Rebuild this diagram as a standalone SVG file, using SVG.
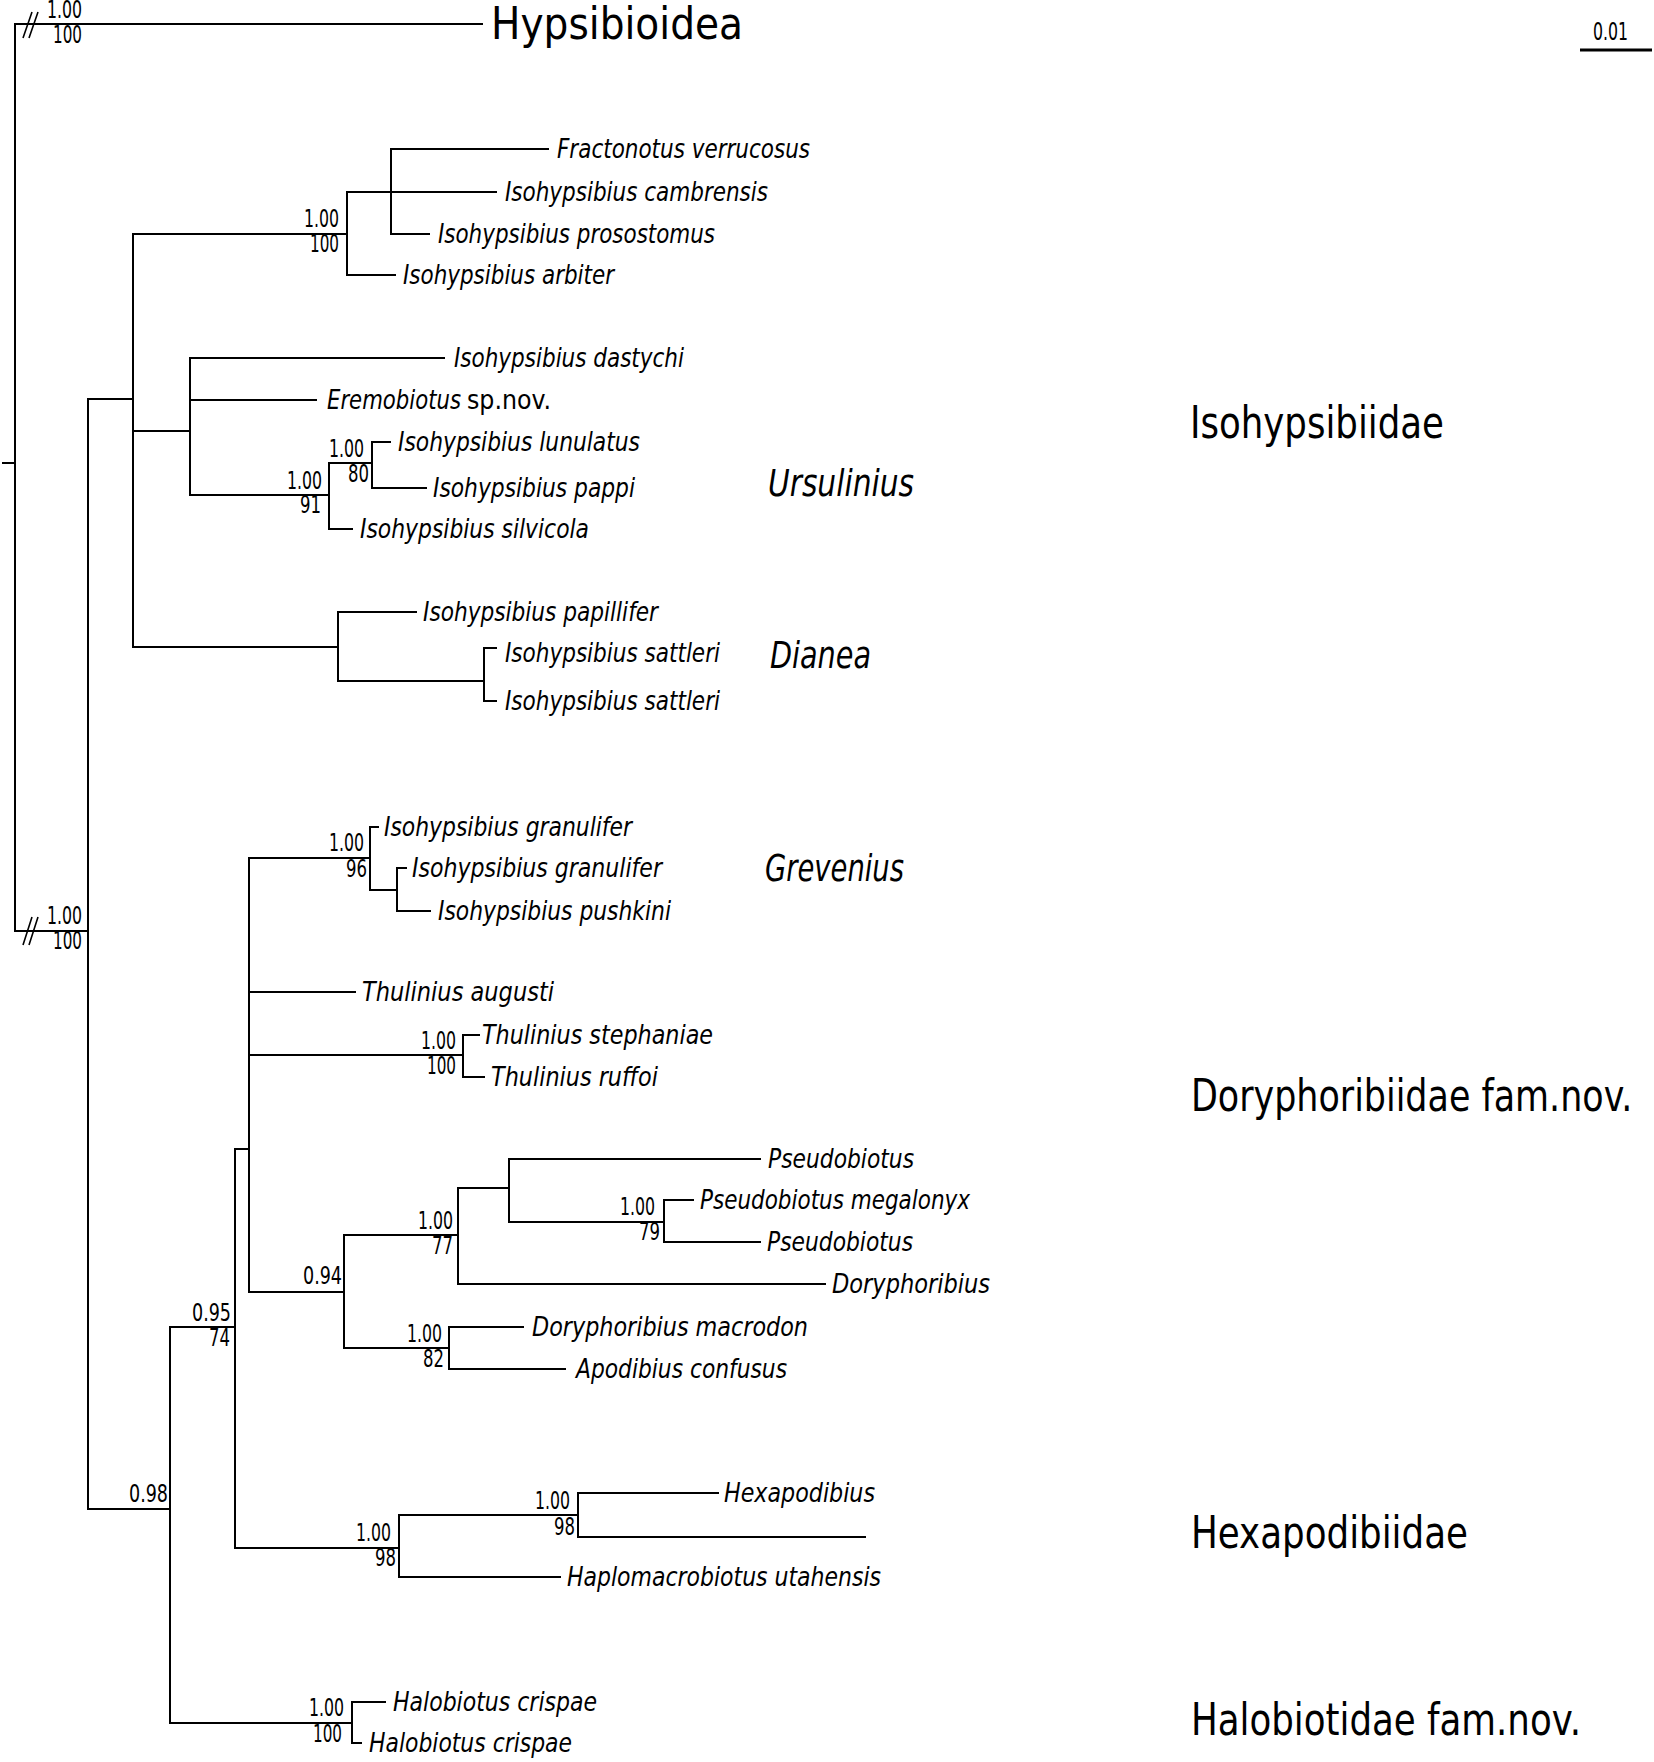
<svg xmlns="http://www.w3.org/2000/svg" width="1654" height="1762" viewBox="0 0 1654 1762">
<style>
text{font-family:"DejaVu Sans Condensed","DejaVu Sans",sans-serif;fill:#000}
.sp{font-size:27px;font-style:italic}
.up{font-size:27px}
.num{font-size:24px;text-anchor:end}
.gen{font-size:38px;font-style:italic}
.fam{font-size:45px}
.e path{fill:none;stroke:#000;stroke-width:2;stroke-linecap:square}
.brk{stroke:#000;stroke-width:1.6;fill:none}
</style>
<rect width="1654" height="1762" fill="#fff"/>
<g id="connectors" class="e">
<path d="M3,463H15M15,24V931M15,24H482M15,931H88"/>
<path d="M88,399V1509M88,399H133M88,1509H170"/>
<path d="M133,234V647M133,234H347M133,431H190M133,647H338"/>
<path d="M347,192V275M347,192H496M347,275H395"/>
<path d="M391,149V234M391,149H548M391,234H429"/>
<path d="M190,358V495M190,358H444M190,400H316M190,495H329"/>
<path d="M329,463V529M329,463H372M329,529H352"/>
<path d="M372,442V488M372,442H390M372,488H426"/>
<path d="M338,612V681M338,612H416M338,681H484"/>
<path d="M484,648V701M484,648H496M484,701H496"/>
<path d="M170,1327V1723M170,1327H235M170,1723H352"/>
<path d="M235,1149V1548M235,1149H249M235,1548H399"/>
<path d="M249,858V1292M249,858H370M249,992H355M249,1055H463M249,1292H344"/>
<path d="M370,827V890M370,827H378M370,890H397"/>
<path d="M397,868V911M397,868H406M397,911H430"/>
<path d="M463,1035V1077M463,1035H479M463,1077H484"/>
<path d="M344,1235V1348M344,1235H458M344,1348H449"/>
<path d="M458,1188V1284M458,1188H509M458,1284H825"/>
<path d="M509,1159V1222M509,1159H760M509,1222H664"/>
<path d="M664,1200V1242M664,1200H693M664,1242H760"/>
<path d="M449,1327V1369M449,1327H523M449,1369H565"/>
<path d="M399,1515V1577M399,1515H578M399,1577H560"/>
<path d="M578,1493V1537M578,1493H718M578,1537H865"/>
<path d="M352,1702V1743M352,1702H385M352,1743H361"/>
</g>
<g id="breaks">
<path class="brk" d="M23,38L32,12M29,38L38,12M23,945L32,917M29,945L38,917"/>
</g>
<g id="scale">
<line x1="1580" y1="50" x2="1652" y2="50" stroke="#000" stroke-width="3"/>
<text class="num" x="1628" y="40" textLength="35" lengthAdjust="spacingAndGlyphs">0.01</text>
</g>
<g id="node-root-top"><text class="num" x="82" y="18" textLength="35" lengthAdjust="spacingAndGlyphs">1.00</text><text class="num" x="82" y="43" textLength="29" lengthAdjust="spacingAndGlyphs">100</text></g>
<g id="node-root-low"><text class="num" x="82" y="924" textLength="35" lengthAdjust="spacingAndGlyphs">1.00</text><text class="num" x="82" y="949" textLength="29" lengthAdjust="spacingAndGlyphs">100</text></g>
<g id="node-B"><text class="num" x="339" y="227" textLength="35" lengthAdjust="spacingAndGlyphs">1.00</text><text class="num" x="339" y="252" textLength="29" lengthAdjust="spacingAndGlyphs">100</text></g>
<g id="node-F"><text class="num" x="322" y="489" textLength="35" lengthAdjust="spacingAndGlyphs">1.00</text><text class="num" x="321" y="513" textLength="21" lengthAdjust="spacingAndGlyphs">91</text></g>
<g id="node-G"><text class="num" x="364" y="457" textLength="35" lengthAdjust="spacingAndGlyphs">1.00</text><text class="num" x="369" y="482" textLength="21" lengthAdjust="spacingAndGlyphs">80</text></g>
<g id="node-N"><text class="num" x="364" y="851" textLength="35" lengthAdjust="spacingAndGlyphs">1.00</text><text class="num" x="367" y="877" textLength="21" lengthAdjust="spacingAndGlyphs">96</text></g>
<g id="node-P"><text class="num" x="456" y="1049" textLength="35" lengthAdjust="spacingAndGlyphs">1.00</text><text class="num" x="456" y="1074" textLength="29" lengthAdjust="spacingAndGlyphs">100</text></g>
<g id="node-R"><text class="num" x="453" y="1229" textLength="35" lengthAdjust="spacingAndGlyphs">1.00</text><text class="num" x="453" y="1254" textLength="21" lengthAdjust="spacingAndGlyphs">77</text></g>
<g id="node-U"><text class="num" x="655" y="1215" textLength="35" lengthAdjust="spacingAndGlyphs">1.00</text><text class="num" x="660" y="1240" textLength="21" lengthAdjust="spacingAndGlyphs">79</text></g>
<g id="node-T"><text class="num" x="442" y="1342" textLength="35" lengthAdjust="spacingAndGlyphs">1.00</text><text class="num" x="444" y="1367" textLength="21" lengthAdjust="spacingAndGlyphs">82</text></g>
<g id="node-Q"><text class="num" x="342" y="1284" textLength="39" lengthAdjust="spacingAndGlyphs">0.94</text></g>
<g id="node-L"><text class="num" x="231" y="1321" textLength="39" lengthAdjust="spacingAndGlyphs">0.95</text><text class="num" x="230" y="1346" textLength="21" lengthAdjust="spacingAndGlyphs">74</text></g>
<g id="node-M"><text class="num" x="168" y="1502" textLength="39" lengthAdjust="spacingAndGlyphs">0.98</text></g>
<g id="node-V"><text class="num" x="391" y="1541" textLength="35" lengthAdjust="spacingAndGlyphs">1.00</text><text class="num" x="396" y="1566" textLength="21" lengthAdjust="spacingAndGlyphs">98</text></g>
<g id="node-W"><text class="num" x="570" y="1509" textLength="35" lengthAdjust="spacingAndGlyphs">1.00</text><text class="num" x="575" y="1535" textLength="21" lengthAdjust="spacingAndGlyphs">98</text></g>
<g id="node-X"><text class="num" x="344" y="1716" textLength="35" lengthAdjust="spacingAndGlyphs">1.00</text><text class="num" x="342" y="1742" textLength="29" lengthAdjust="spacingAndGlyphs">100</text></g>
<g id="leaf-hypsibioidea"><text class="fam" x="491" y="39" textLength="252" lengthAdjust="spacingAndGlyphs">Hypsibioidea</text></g>
<g id="leaf-1"><text class="sp" x="557" y="158" textLength="253" lengthAdjust="spacingAndGlyphs">Fractonotus verrucosus</text></g>
<g id="leaf-2"><text class="sp" x="505" y="201" textLength="263" lengthAdjust="spacingAndGlyphs">Isohypsibius cambrensis</text></g>
<g id="leaf-3"><text class="sp" x="438" y="243" textLength="277" lengthAdjust="spacingAndGlyphs">Isohypsibius prosostomus</text></g>
<g id="leaf-4"><text class="sp" x="403" y="284" textLength="211" lengthAdjust="spacingAndGlyphs">Isohypsibius arbiter</text></g>
<g id="leaf-5"><text class="sp" x="454" y="367" textLength="230" lengthAdjust="spacingAndGlyphs">Isohypsibius dastychi</text></g>
<g id="leaf-6"><text class="sp" x="327" y="409" textLength="134" lengthAdjust="spacingAndGlyphs">Eremobiotus</text><text class="up" x="467" y="409" textLength="84" lengthAdjust="spacingAndGlyphs">sp.nov.</text></g>
<g id="leaf-7"><text class="sp" x="398" y="451" textLength="242" lengthAdjust="spacingAndGlyphs">Isohypsibius lunulatus</text></g>
<g id="leaf-8"><text class="sp" x="433" y="497" textLength="202" lengthAdjust="spacingAndGlyphs">Isohypsibius pappi</text></g>
<g id="leaf-9"><text class="sp" x="360" y="538" textLength="229" lengthAdjust="spacingAndGlyphs">Isohypsibius silvicola</text></g>
<g id="leaf-10"><text class="sp" x="423" y="621" textLength="235" lengthAdjust="spacingAndGlyphs">Isohypsibius papillifer</text></g>
<g id="leaf-11"><text class="sp" x="505" y="662" textLength="215" lengthAdjust="spacingAndGlyphs">Isohypsibius sattleri</text></g>
<g id="leaf-12"><text class="sp" x="505" y="710" textLength="215" lengthAdjust="spacingAndGlyphs">Isohypsibius sattleri</text></g>
<g id="leaf-13"><text class="sp" x="384" y="836" textLength="248" lengthAdjust="spacingAndGlyphs">Isohypsibius granulifer</text></g>
<g id="leaf-14"><text class="sp" x="412" y="877" textLength="250" lengthAdjust="spacingAndGlyphs">Isohypsibius granulifer</text></g>
<g id="leaf-15"><text class="sp" x="438" y="920" textLength="233" lengthAdjust="spacingAndGlyphs">Isohypsibius pushkini</text></g>
<g id="leaf-16"><text class="sp" x="362" y="1001" textLength="192" lengthAdjust="spacingAndGlyphs">Thulinius augusti</text></g>
<g id="leaf-17"><text class="sp" x="482" y="1044" textLength="231" lengthAdjust="spacingAndGlyphs">Thulinius stephaniae</text></g>
<g id="leaf-18"><text class="sp" x="491" y="1086" textLength="167" lengthAdjust="spacingAndGlyphs">Thulinius ruffoi</text></g>
<g id="leaf-19"><text class="sp" x="768" y="1168" textLength="146" lengthAdjust="spacingAndGlyphs">Pseudobiotus</text></g>
<g id="leaf-20"><text class="sp" x="700" y="1209" textLength="270" lengthAdjust="spacingAndGlyphs">Pseudobiotus megalonyx</text></g>
<g id="leaf-21"><text class="sp" x="767" y="1251" textLength="146" lengthAdjust="spacingAndGlyphs">Pseudobiotus</text></g>
<g id="leaf-22"><text class="sp" x="832" y="1293" textLength="158" lengthAdjust="spacingAndGlyphs">Doryphoribius</text></g>
<g id="leaf-23"><text class="sp" x="532" y="1336" textLength="276" lengthAdjust="spacingAndGlyphs">Doryphoribius macrodon</text></g>
<g id="leaf-24"><text class="sp" x="576" y="1378" textLength="211" lengthAdjust="spacingAndGlyphs">Apodibius confusus</text></g>
<g id="leaf-25"><text class="sp" x="724" y="1502" textLength="151" lengthAdjust="spacingAndGlyphs">Hexapodibius</text></g>
<g id="leaf-26"><text class="sp" x="567" y="1586" textLength="314" lengthAdjust="spacingAndGlyphs">Haplomacrobiotus utahensis</text></g>
<g id="leaf-27"><text class="sp" x="393" y="1711" textLength="204" lengthAdjust="spacingAndGlyphs">Halobiotus crispae</text></g>
<g id="leaf-28"><text class="sp" x="369" y="1752" textLength="203" lengthAdjust="spacingAndGlyphs">Halobiotus crispae</text></g>
<g id="genus-ursulinius"><text class="gen" x="768" y="496" textLength="146" lengthAdjust="spacingAndGlyphs">Ursulinius</text></g>
<g id="genus-dianea"><text class="gen" x="770" y="668" textLength="101" lengthAdjust="spacingAndGlyphs">Dianea</text></g>
<g id="genus-grevenius"><text class="gen" x="765" y="881" textLength="139" lengthAdjust="spacingAndGlyphs">Grevenius</text></g>
<g id="family-isohypsibiidae"><text class="fam" x="1190" y="438" textLength="254" lengthAdjust="spacingAndGlyphs">Isohypsibiidae</text></g>
<g id="family-doryphoribiidae"><text class="fam" transform="translate(1191 1111) scale(0.862 1)" x="0" y="0">Doryphoribiidae fam.nov.</text></g>
<g id="family-hexapodibiidae"><text class="fam" x="1191" y="1548" textLength="277" lengthAdjust="spacingAndGlyphs">Hexapodibiidae</text></g>
<g id="family-halobiotidae"><text class="fam" x="1191" y="1735" textLength="390" lengthAdjust="spacingAndGlyphs">Halobiotidae fam.nov.</text></g>
</svg>
